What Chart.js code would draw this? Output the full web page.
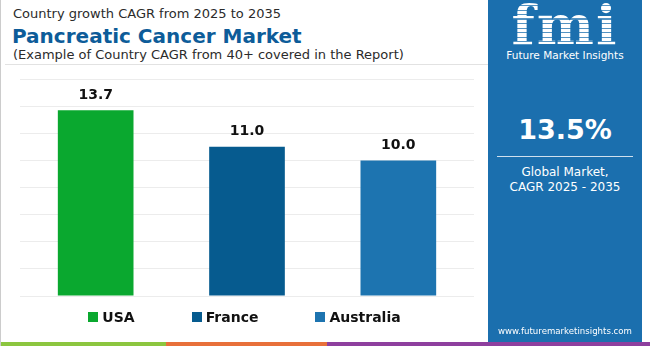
<!DOCTYPE html>
<html>
<head>
<meta charset="utf-8">
<script src="https://cdn.jsdelivr.net/npm/chart.js@4/dist/chart.umd.min.js"></script>
<style>
  html, body { margin: 0; padding: 0; background: #fff; }
  #page { position: relative; width: 650px; height: 346px; overflow: hidden; font-family: "DejaVu Sans", sans-serif; border-left: 1px solid #ccc; box-sizing: border-box; }
  .abs { position: absolute; white-space: nowrap; }
  #t1 { left: 12px; top: 6px; font-size: 13px; color: #2b2b2b; }
  #t2 { left: 11px; top: 24px; font-size: 20px; font-weight: bold; color: #0d5c99; }
  #t3 { left: 12px; top: 47px; font-size: 13px; color: #2b2b2b; }
  #sep { left: 4px; top: 64px; width: 483px; height: 1px; background: #e2e2e2; }
  #chartBox { left: 0; top: 65px; width: 487px; height: 245px; }
  #legend { left: 0; top: 309px; width: 487px; display: flex; justify-content: center; gap: 57px; font-size: 14px; font-weight: bold; color: #111; }
  #legend span.box { display: inline-block; width: 10px; height: 10px; margin-right: 4px; }
  #legend div { display: flex; align-items: center; }
  #panel { left: 487px; top: 0; width: 154px; height: 343px; background: #1b6fae; color: #fff; text-align: center; }
  #logo { left: 0; width: 154px; top: 2px; height: 46px; font-size: 54px; line-height: 46px; font-weight: bold; font-family: "DejaVu Serif", serif; letter-spacing: 2px;
          background: repeating-linear-gradient(#fff 0 3px, rgba(255,255,255,0.25) 3px 4.5px); -webkit-background-clip: text; background-clip: text; color: transparent; }
  #fmiName { left: 0; width: 154px; top: 49px; font-size: 10.5px; }
  #big { left: 0; width: 154px; top: 114px; font-size: 27px; font-weight: bold; }
  #rule { left: 9px; top: 156px; width: 136px; height: 1px; background: #cfe0ee; }
  #g1 { left: 0; width: 154px; top: 165px; font-size: 12px; }
  #g2 { left: 0; width: 154px; top: 180px; font-size: 12px; }
  #url { left: 0; width: 154px; top: 326px; font-size: 8.6px; }
  .stripe { top: 342px; height: 4px; }
</style>
</head>
<body>
<div id="page">
  <div id="t1" class="abs">Country growth CAGR from 2025 to 2035</div>
  <div id="t2" class="abs">Pancreatic Cancer Market</div>
  <div id="t3" class="abs">(Example of Country CAGR from 40+ covered in the Report)</div>
  <div id="sep" class="abs"></div>
  <div id="chartBox" class="abs"><canvas id="barChart"></canvas></div>
  <div id="legend" class="abs"></div>
  <div id="panel" class="abs">
    <div id="logo" class="abs">fmi</div>
    <div id="fmiName" class="abs">Future Market Insights</div>
    <div id="big" class="abs">13.5%</div>
    <div id="rule" class="abs"></div>
    <div id="g1" class="abs">Global Market,</div>
    <div id="g2" class="abs">CAGR 2025 - 2035</div>
    <div id="url" class="abs">www.futuremarketinsights.com</div>
  </div>
  <div class="abs stripe" style="left:0;width:165px;background:#8cc63f"></div>
  <div class="abs stripe" style="left:165px;width:161px;background:#e8703a"></div>
  <div class="abs stripe" style="left:326px;width:324px;background:#8e3f9e"></div>
</div>
<script>
const countries = ['USA', 'France', 'Australia'];
const cagrValues = [13.7, 11.0, 10.0];
const barColors = ['#0aa82f', '#065b8f', '#1d74b0'];

// legend
const legendEl = document.getElementById('legend');
countries.forEach(function(name, i) {
    const item = document.createElement('div');
    item.innerHTML = '<span class="box" style="background:' + barColors[i] + '"></span>' + name;
    legendEl.appendChild(item);
});

// value labels above bars
const valueLabels = {
    id: 'valueLabels',
    afterDatasetsDraw(chart) {
        const ctx = chart.ctx;
        const meta = chart.getDatasetMeta(0);
        ctx.save();
        ctx.font = 'bold 14px "DejaVu Sans", sans-serif';
        ctx.fillStyle = '#111';
        ctx.textAlign = 'center';
        ctx.textBaseline = 'bottom';
        meta.data.forEach(function(bar, i) {
            ctx.fillText(cagrValues[i].toFixed(1), bar.x, bar.y - 8);
        });
        ctx.restore();
    }
};

const barCtx = document.getElementById('barChart');
new Chart(barCtx, {
    type: 'bar',
    data: { labels: countries, datasets: [{ data: cagrValues, backgroundColor: barColors, categoryPercentage: 1, barPercentage: 0.5 }] },
    options: {
        responsive: true, maintainAspectRatio: false, animation: false,
        layout: { padding: { left: 19, right: 14, top: 14, bottom: 14 } },
        plugins: { legend: { display: false }, tooltip: { enabled: false } },
        scales: {
            x: { display: false },
            y: { min: 0, max: 16, ticks: { stepSize: 2, display: false }, border: { display: false },
                 grid: { color: '#ececec', drawTicks: false } }
        }
    },
    plugins: [valueLabels]
});
</script>
</body>
</html>
